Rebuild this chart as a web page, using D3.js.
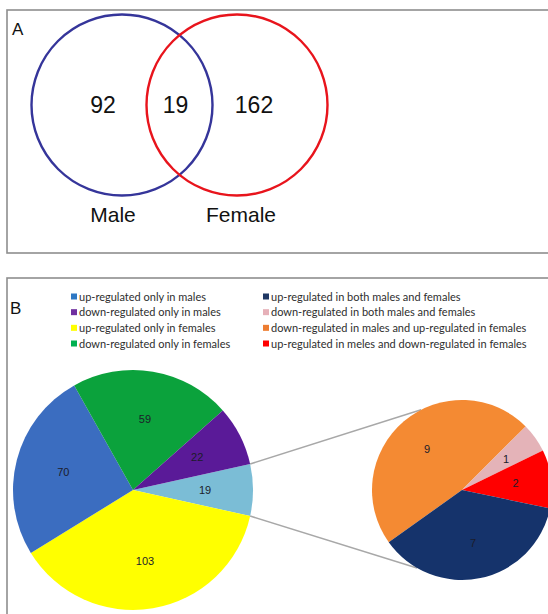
<!DOCTYPE html>
<html>
<head>
<meta charset="utf-8">
<script src="https://cdn.jsdelivr.net/npm/d3@7"></script>
<style>
  html, body { margin: 0; padding: 0; background: #fff; }
  svg { display: block; }
</style>
</head>
<body>
<svg id="chart" width="548" height="614"></svg>
<script>
// ---- Panel A: Venn counts ----
const vennSets = ["Male", "Female"];
const vennCounts = [92, 19, 162]; // male only, shared, female only

// ---- Panel B: main pie ----
const mainCategories = [
  "regulated in both sexes",
  "up-regulated only in females",
  "up-regulated only in males",
  "down-regulated only in females",
  "down-regulated only in males"
];
const mainValues = [19, 103, 70, 59, 22];
const mainColors = ["#7bbdd6", "#ffff00", "#3b6dc0", "#0ba23c", "#5a1a98"];

// ---- Panel B: breakdown of the shared genes ----
const subCategories = [
  "down-regulated in males and up-regulated in females",
  "down-regulated in both males and females",
  "up-regulated in meles and down-regulated in females",
  "up-regulated in both males and females"
];
const subValues = [9, 1, 2, 7];
const subColors = ["#f48a33", "#e4b3b8", "#ff0000", "#15336b"];

// ---- Legend ----
const legendLeft = [
  "up-regulated only in males",
  "down-regulated only in males",
  "up-regulated only in females",
  "down-regulated only in females"
];
const legendLeftColors = ["#2e78c4", "#7030a0", "#ffff00", "#00b050"];
const legendRight = [
  "up-regulated in both males and females",
  "down-regulated in both males and females",
  "down-regulated in males and up-regulated in females",
  "up-regulated in meles and down-regulated in females"
];
const legendRightColors = ["#1f3864", "#e6b0b8", "#ed7d31", "#ff0000"];

const svg = d3.select("#chart");
const frameColor = "#8e8e8e";

// Panel frames (they run off the right / bottom edges)
svg.append("rect").attr("x", 7).attr("y", 10).attr("width", 560).attr("height", 243)
  .attr("fill", "none").attr("stroke", frameColor).attr("stroke-width", 1.6);
svg.append("rect").attr("x", 7).attr("y", 278).attr("width", 560).attr("height", 360)
  .attr("fill", "none").attr("stroke", frameColor).attr("stroke-width", 1.6);

// Panel letters
svg.append("text").attr("x", 12).attr("y", 35).text("A")
  .attr("font-family", "Liberation Sans, Arial, sans-serif").attr("font-size", 17).attr("fill", "#111");
svg.append("text").attr("x", 10).attr("y", 314).text("B")
  .attr("font-family", "Liberation Sans, Arial, sans-serif").attr("font-size", 17).attr("fill", "#111");

// ---- Venn diagram ----
const venn = svg.append("g");
const vennX = d3.scaleOrdinal().domain(vennSets).range([122, 237]);
const vennR = 90.5, vennCy = 105;
const vennStroke = d3.scaleOrdinal().domain(vennSets).range(["#35359a", "#e8141c"]);

venn.selectAll("circle").data(vennSets).join("circle")
  .attr("cx", d => vennX(d)).attr("cy", vennCy).attr("r", vennR)
  .attr("fill", "none").attr("stroke", d => vennStroke(d)).attr("stroke-width", 2.4);

const mid = (vennX("Male") + vennX("Female")) / 2;
const countX = [vennX("Male") - 19, mid - 4, vennX("Female") + 17];
venn.selectAll("text.count").data(vennCounts).join("text")
  .attr("class", "count")
  .attr("x", (d, i) => countX[i]).attr("y", vennCy + 8)
  .attr("text-anchor", "middle")
  .attr("font-family", "Liberation Sans, Arial, sans-serif").attr("font-size", 23).attr("fill", "#111")
  .text(d => d);

const setLabelX = [vennX("Male") - 9, vennX("Female") + 4];
venn.selectAll("text.set").data(vennSets).join("text")
  .attr("class", "set")
  .attr("x", (d, i) => setLabelX[i]).attr("y", 222)
  .attr("text-anchor", "middle")
  .attr("font-family", "Liberation Sans, Arial, sans-serif").attr("font-size", 21).attr("fill", "#111")
  .text(d => d);

// ---- Legend ----
const legendFont = "Lato, 'Open Sans', sans-serif";
const rowY = d3.scalePoint().domain(d3.range(4)).range([297, 344]);

function drawLegend(items, colors, x0) {
  const g = svg.append("g");
  const rows = g.selectAll("g").data(items).join("g")
    .attr("transform", (d, i) => `translate(${x0},${rowY(i)})`);
  rows.append("rect").attr("x", 0).attr("y", -3.5).attr("width", 6).attr("height", 6)
    .attr("fill", (d, i) => colors[i]);
  rows.append("text").attr("x", 8).attr("y", 3.5)
    .attr("font-family", legendFont).attr("font-size", 11).attr("fill", "#2e2e2e")
    .text(d => d);
}
drawLegend(legendLeft, legendLeftColors, 71);
drawLegend(legendRight, legendRightColors, 263);

// ---- Pies ----
const deg = Math.PI / 180;
const mainTotal = d3.sum(mainValues);
const main = { cx: 133, cy: 490, r: 120 };
const sub = { cx: 462, cy: 490, r: 90 };

// Shared slice centred on the 3 o'clock direction
const mainStart = Math.PI / 2 - (mainValues[0] / mainTotal) * Math.PI;
const mainPie = d3.pie().sort(null).startAngle(mainStart).endAngle(mainStart + 2 * Math.PI);
const mainArcs = mainPie(mainValues);
const subStart = -125.5 * deg;
const subArcs = d3.pie().sort(null).startAngle(subStart).endAngle(subStart + 2 * Math.PI)(subValues);

const pointAt = (c, a, r) => [c.cx + r * Math.sin(a), c.cy - r * Math.cos(a)];

// Connector lines from the shared slice to the breakdown pie
const shared = mainArcs[0];
const links = [
  [pointAt(main, shared.startAngle, main.r), pointAt(sub, -27 * deg, sub.r)],
  [pointAt(main, shared.endAngle, main.r), pointAt(sub, 210 * deg, sub.r)]
];
svg.append("g").selectAll("line").data(links).join("line")
  .attr("x1", d => d[0][0]).attr("y1", d => d[0][1])
  .attr("x2", d => d[1][0]).attr("y2", d => d[1][1])
  .attr("stroke", "#a8a8a8").attr("stroke-width", 1.5);

function drawPie(arcs, colors, c, labelFactor) {
  const g = svg.append("g").attr("transform", `translate(${c.cx},${c.cy})`);
  const arc = d3.arc().innerRadius(0).outerRadius(c.r);
  const labelArc = d3.arc().innerRadius(c.r * labelFactor).outerRadius(c.r * labelFactor);
  g.selectAll("path").data(arcs).join("path")
    .attr("d", arc).attr("fill", (d, i) => colors[i]);
  g.selectAll("text").data(arcs).join("text")
    .attr("transform", d => `translate(${labelArc.centroid(d)})`)
    .attr("text-anchor", "middle").attr("dy", "0.35em")
    .attr("font-family", "Liberation Sans, Arial, sans-serif").attr("font-size", 11)
    .attr("fill", "#1c1c2a")
    .text(d => d.data);
}
drawPie(mainArcs, mainColors, main, 0.6);
drawPie(subArcs, subColors, sub, 0.6);
</script>
</body>
</html>
